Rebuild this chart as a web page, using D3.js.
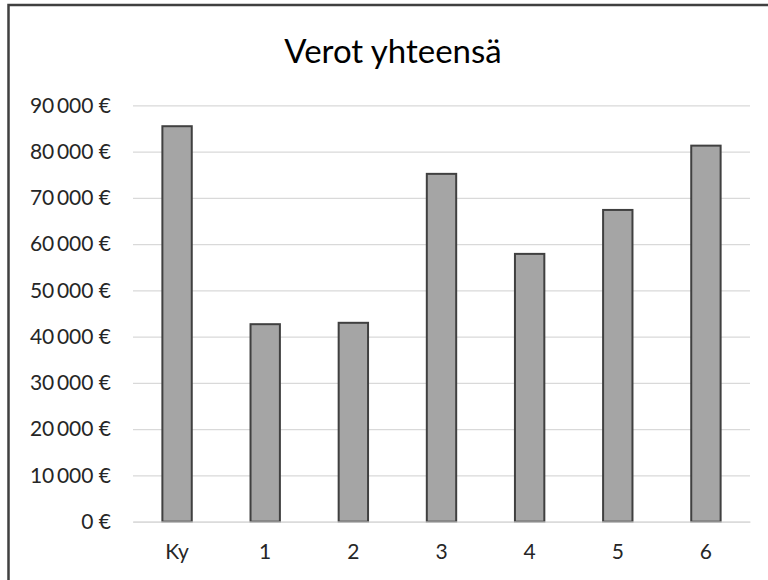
<!DOCTYPE html>
<html lang="fi">
<head>
<meta charset="UTF-8">
<script src="https://d3js.org/d3.v7.min.js"></script>
<title>Verot yhteensä</title>
<style>
  body{ margin:0; background:#fff; }
  svg{ display:block; font-family: Lato, "Open Sans", sans-serif; }
  .grid line{ stroke:#d9d9d9; stroke-width:1.3px; }
  .tick text{ fill:#262626; font-size:21px; font-family: Lato, "Open Sans", sans-serif; }
  .bar{ fill:#a5a5a5; stroke:#404040; stroke-width:2px; }
</style>
</head>
<body>
<svg id="chart" width="768" height="580"></svg>
<script>
// data
var categories = ["Ky", "1", "2", "3", "4", "5", "6"];
var verot = [85500, 42700, 43000, 75200, 57900, 67400, 81300];
var yTicks = [0, 10000, 20000, 30000, 40000, 50000, 60000, 70000, 80000, 90000];
var title = "Verot yhteensä";

var svg = d3.select("#chart");

// chart frame (cut off on the right and bottom like the screenshot)
svg.append("rect")
  .attr("x", 8.5).attr("y", 5)
  .attr("width", 800).attr("height", 620)
  .attr("fill", "#fff")
  .attr("stroke", "#404040")
  .attr("stroke-width", 2.5);

var margin = {left:133, top:105.4, right:18, bottom:58.3};
var w = 768 - margin.left - margin.right;
var h = 580 - margin.top - margin.bottom;

var fi = d3.formatLocale({decimal:",", thousands:"\u2009", grouping:[3], currency:["", "\u00a0€"]});
var fmt = fi.format("$,.0f");

var x = d3.scaleBand().domain(categories).range([0, w]).paddingInner(2/3).paddingOuter(1/3);
var y = d3.scaleLinear().domain([0, 90000]).range([h, 0]);

var g = svg.append("g").attr("transform", "translate(" + margin.left + "," + margin.top + ")");

// gridlines + y labels
g.append("g")
  .attr("class", "grid")
  .call(d3.axisLeft(y).tickValues(yTicks).tickFormat(fmt).tickSize(-w).tickPadding(22))
  .call(function(s){ s.select(".domain").remove(); });

// bars
g.selectAll(".bar")
  .data(verot)
  .enter()
  .append("rect")
  .attr("class", "bar")
  .attr("x", function(d, i){ return x(categories[i]); })
  .attr("y", function(d){ return y(d); })
  .attr("width", x.bandwidth())
  .attr("height", function(d){ return h - y(d); });

// x labels
g.append("g")
  .attr("transform", "translate(0," + h + ")")
  .call(d3.axisBottom(x).tickSize(0).tickPadding(22))
  .call(function(s){ s.select(".domain").attr("stroke", "#d9d9d9").attr("stroke-width", 1.3); });

// title
svg.append("text")
  .attr("x", 393)
  .attr("y", 63)
  .attr("text-anchor", "middle")
  .attr("fill", "#000")
  .style("font-size", "33px")
  .text(title);
</script>
</body>
</html>
